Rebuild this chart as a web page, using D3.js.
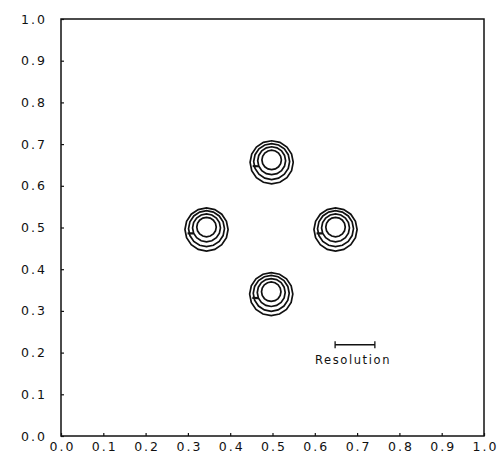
<!DOCTYPE html>
<html><head><meta charset="utf-8">
<script src="https://cdn.jsdelivr.net/npm/d3@7"></script>
<style>body{margin:0;background:#fff}svg{display:block}text{font-family:"DejaVu Sans",sans-serif;fill:#111}</style>
</head><body>
<script>
// data
const xTicks = [0.0,0.1,0.2,0.3,0.4,0.5,0.6,0.7,0.8,0.9,1.0];
const yTicks = [0.0,0.1,0.2,0.3,0.4,0.5,0.6,0.7,0.8,0.9,1.0];
const peakX = [0.498, 0.344, 0.649, 0.497];
const peakY = [0.662, 0.501, 0.501, 0.346];
const ringRadii = [0.023, 0.033, 0.0425, 0.051];
const resolutionBar = [0.648, 0.742];
const resolutionY = 0.219;
const resolutionLabel = "Resolution";

const W = 499, H = 458;
const svg = d3.select("body").append("svg").attr("width", W).attr("height", H);
const x = d3.scaleLinear().domain([0,1]).range([61,484]);
const y = d3.scaleLinear().domain([0,1]).range([436,19]);

// frame
svg.append("rect").attr("x", x(0)).attr("y", y(1)).attr("width", x(1)-x(0)).attr("height", y(0)-y(1))
  .attr("fill","none").attr("stroke","#111").attr("stroke-width",1.5);

// axes (inward ticks)
const xAxis = d3.axisBottom(x).tickValues(xTicks).tickSize(-3).tickPadding(9).tickFormat(d3.format(".1f"));
const gx = svg.append("g").attr("transform",`translate(0,${y(0)})`).call(xAxis);
gx.select(".domain").remove();
gx.selectAll("line").attr("stroke","#111").attr("stroke-width",1.2);
gx.selectAll("text").attr("font-size",12.5).attr("letter-spacing","2px").attr("fill","#111").attr("dx","1px").attr("dy","0.45em");

const yAxis = d3.axisLeft(y).tickValues(yTicks).tickSize(-3).tickPadding(14).tickFormat(d3.format(".1f"));
const gy = svg.append("g").attr("transform",`translate(${x(0)},0)`).call(yAxis);
gy.select(".domain").remove();
gy.selectAll("line").attr("stroke","#111").attr("stroke-width",1.2);
gy.selectAll("text").attr("font-size",12.5).attr("letter-spacing","2px").attr("fill","#111");

// contour rings
const pxPerUnit = x(1)-x(0);
const peaks = peakX.map((px,i)=>({x:px,y:peakY[i]}));
const g = svg.append("g");
const line = d3.line().curve(d3.curveLinearClosed);
peaks.forEach(p=>{
  ringRadii.forEach((r,k)=>{
    const n = 16;
    const pts = d3.range(n).map(j=>{
      const a = j/n*2*Math.PI;
      const rp = r*pxPerUnit;
      return [x(p.x)+rp*Math.cos(a), y(p.y)+rp*Math.sin(a) + (k*0.8)];
    });
    g.append("path").attr("d", line(pts)).attr("fill","none").attr("stroke","#111").attr("stroke-width",1.7);
  });
  // small dark joining mark on lower left
  const a = 2.75;
  const r1 = ringRadii[1]*pxPerUnit, r2 = ringRadii[3]*pxPerUnit;
  g.append("line")
    .attr("x1", x(p.x)+r1*Math.cos(a)).attr("y1", y(p.y)+r1*Math.sin(a)+1)
    .attr("x2", x(p.x)+r2*Math.cos(a)+1).attr("y2", y(p.y)+r2*Math.sin(a)-2)
    .attr("stroke","#111").attr("stroke-width",2.2);
});

// resolution bar
const rb = svg.append("g");
rb.append("line").attr("x1",x(resolutionBar[0])).attr("x2",x(resolutionBar[1])).attr("y1",y(resolutionY)).attr("y2",y(resolutionY)).attr("stroke","#111").attr("stroke-width",1.5);
resolutionBar.forEach(v=>rb.append("line").attr("x1",x(v)).attr("x2",x(v)).attr("y1",y(resolutionY)-3.5).attr("y2",y(resolutionY)+3.5).attr("stroke","#111").attr("stroke-width",1.3));
rb.append("text").attr("x",(x(resolutionBar[0])+x(resolutionBar[1]))/2 - 2).attr("y",y(resolutionY)+19)
  .attr("text-anchor","middle").attr("font-size",11.5).attr("letter-spacing","1.6px").text(resolutionLabel);
</script>
</body></html>
